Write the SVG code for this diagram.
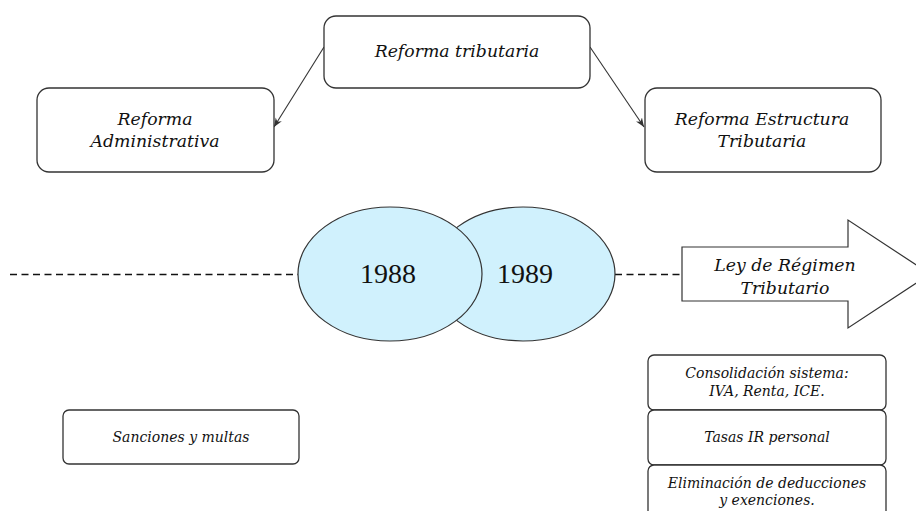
<svg xmlns="http://www.w3.org/2000/svg" width="916" height="511" viewBox="0 0 916 511">
<style>
.box{fill:#fff;stroke:#333;stroke-width:1.3}
.t{font-family:"DejaVu Serif","Liberation Serif",serif;font-style:italic;fill:#111;text-anchor:middle}
.s{font-size:17.3px}
.m{font-size:14px}
.yr{font-family:"Liberation Serif","DejaVu Serif",serif;font-size:28px;fill:#111;text-anchor:middle}
.ell{fill:#d0f1fd;stroke:#333;stroke-width:1.2}
.con{stroke:#333;stroke-width:1.1;fill:none}
.dash{stroke:#111;stroke-width:1.3;stroke-dasharray:7 4.5;fill:none}
</style>
<defs>
<marker id="ah" viewBox="0 0 10 10" refX="10" refY="5" markerWidth="9" markerHeight="9" orient="auto" markerUnits="userSpaceOnUse">
<path d="M0,1 L10,5 L0,9 L3,5 Z" fill="#333"/>
</marker>
</defs>
<g id="connectors">
<line class="con" x1="324" y1="47" x2="274" y2="127" marker-end="url(#ah)"/>
<line class="con" x1="590" y1="47" x2="644" y2="127" marker-end="url(#ah)"/>
<line class="dash" x1="10" y1="274.5" x2="298" y2="274.5"/>
<line class="dash" x1="615" y1="274.5" x2="682" y2="274.5"/>
</g>
<g id="reforma-tributaria">
<rect class="box" x="324" y="16" width="266" height="72" rx="12"/>
<text class="t s" x="457" y="57">Reforma tributaria</text>
</g>
<g id="reforma-administrativa">
<rect class="box" x="37" y="88" width="237" height="84" rx="12"/>
<text class="t s" x="155" y="125">Reforma</text>
<text class="t s" x="155" y="147">Administrativa</text>
</g>
<g id="reforma-estructura">
<rect class="box" x="645" y="88" width="236" height="84" rx="12"/>
<text class="t s" x="762" y="125">Reforma Estructura</text>
<text class="t s" x="762" y="147">Tributaria</text>
</g>
<g id="y1989">
<ellipse class="ell" cx="523" cy="274" rx="92" ry="67"/>
<text class="yr" x="525" y="283">1989</text>
</g>
<g id="y1988">
<ellipse class="ell" cx="390" cy="274" rx="92" ry="67"/>
<text class="yr" x="388" y="283">1988</text>
</g>
<g id="ley-regimen">
<path d="M682,247 L848,247 L848,220 L930,274 L848,328 L848,301 L682,301 Z" fill="#fff" stroke="#333" stroke-width="1.2"/>
<text class="t s" x="785" y="271">Ley de Régimen</text>
<text class="t s" x="785" y="294">Tributario</text>
</g>
<g id="sanciones">
<rect class="box" x="63" y="410" width="236" height="54" rx="6"/>
<text class="t m" x="181" y="442">Sanciones y multas</text>
</g>
<g id="consolidacion">
<rect class="box" x="648" y="355" width="238" height="55" rx="6"/>
<text class="t m" x="767" y="378">Consolidación sistema:</text>
<text class="t m" x="767" y="396">IVA, Renta, ICE.</text>
</g>
<g id="tasas">
<rect class="box" x="648" y="410" width="238" height="55" rx="6"/>
<text class="t m" x="767" y="442">Tasas IR personal</text>
</g>
<g id="eliminacion">
<rect class="box" x="648" y="465" width="238" height="60" rx="6"/>
<text class="t m" x="767" y="488">Eliminación de deducciones</text>
<text class="t m" x="767" y="505">y exenciones.</text>
</g>
</svg>
